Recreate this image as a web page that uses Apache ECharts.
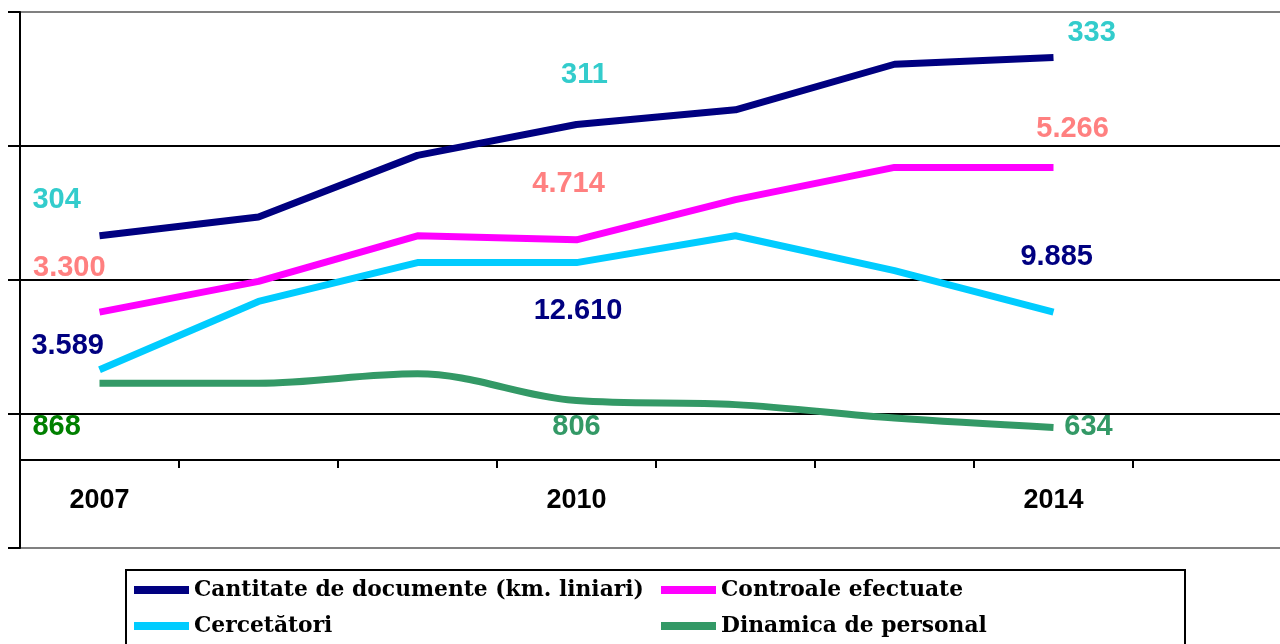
<!DOCTYPE html>
<html>
<head>
<meta charset="utf-8">
<script src="https://cdn.jsdelivr.net/npm/echarts@6/dist/echarts.min.js"></script>
<style>
  html, body { margin: 0; padding: 0; background: #fff; }
  #chart { width: 1280px; height: 644px; }
</style>
</head>
<body>
<div id="chart"></div>
<script>
// categories (only every third one is labelled on the axis)
const years = ['2007', '2008', '2009', '2010', '2011', '2012', '2014', '']

// series, in the chart's own (unitless) scale
const cantitate = [2.33, 2.47, 2.93, 3.16, 3.27, 3.61, 3.66]
const controale = [1.76, 1.99, 2.33, 2.30, 2.60, 2.84, 2.84]
const cercetatori = [1.33, 1.84, 2.13, 2.13, 2.33, 2.07, 1.76]
const dinamica = [1.23, 1.23, 1.30, 1.10, 1.07, 0.97, 0.90]

// value annotations written on the chart
const turqText = ['304', '311', '333']
const turqX = [-0.27, 3.05, 6.24]
const turqY = [2.60, 3.53, 3.84]
const salmonText = ['3.300', '4.714', '5.266']
const salmonX = [-0.19, 2.95, 6.12]
const salmonY = [2.09, 2.72, 3.13]
const navyText = ['3.589', '12.610', '9.885']
const navyX = [-0.20, 3.01, 6.02]
const navyY = [1.51, 1.77, 2.17]
const greenText = ['868', '806', '634']
const greenX = [-0.27, 3.00, 6.22]
const greenY = [0.90, 0.90, 0.90]

const names = ['Cantitate de documente (km. liniari)', 'Controale efectuate', 'Cercetători', 'Dinamica de personal']
const colors = ['#000080', '#ff00ff', '#00ccff', '#339966']

function annot(text, xs, ys, color, itemColors) {
  return {
    type: 'scatter',
    xAxisIndex: 1,
    symbolSize: 0,
    silent: true,
    z: 5,
    itemStyle: { opacity: 1 },
    data: text.map((t, i) => ({
      name: t,
      value: [xs[i], ys[i]],
      label: itemColors ? { color: itemColors[i] } : undefined
    })),
    label: {
      show: true,
      position: 'inside',
      formatter: p => p.name,
      color: color,
      opacity: 1,
      fontFamily: 'Liberation Sans, Arial, sans-serif',
      fontWeight: 'bold',
      fontSize: 29
    }
  }
}

function line(idx, data, smooth) {
  return {
    name: names[idx],
    type: 'line',
    data: data,
    smooth: smooth ? 0.35 : false,
    symbol: 'none',
    color: colors[idx],
    lineStyle: { width: 7, color: colors[idx], cap: 'butt' },
    animation: false
  }
}

const legendText = {
  fontFamily: 'DejaVu Serif, Georgia, serif',
  fontWeight: 'bold',
  fontSize: 21.8,
  color: '#000'
}

const chart = echarts.init(document.getElementById('chart'))
chart.setOption({
  animation: false,
  // the plot runs past the right edge of the picture (8th slot is empty)
  grid: { left: 20, right: -12, top: 12, bottom: 96, outerBoundsMode: 'none', containLabel: false },
  legend: [
    {
      data: [names[0], names[2]],
      orient: 'vertical',
      left: 134,
      top: 579,
      padding: 0,
      itemGap: 14,
      itemWidth: 55,
      itemHeight: 8,
      icon: 'rect',
      textStyle: legendText
    },
    {
      data: [names[1], names[3]],
      orient: 'vertical',
      left: 661,
      top: 579,
      padding: 0,
      itemGap: 14,
      itemWidth: 55,
      itemHeight: 8,
      icon: 'rect',
      textStyle: legendText
    }
  ],
  graphic: [{
    type: 'rect',
    shape: { x: 126, y: 570, width: 1059, height: 100 },
    style: { fill: 'none', stroke: '#000', lineWidth: 2 },
    silent: true
  }],
  xAxis: [
    {
      type: 'category',
      data: years,
      position: 'bottom',
      offset: -88,
      boundaryGap: true,
      axisLine: { onZero: false, lineStyle: { color: '#000', width: 2 } },
      axisTick: { show: true, length: 8, interval: 0, lineStyle: { color: '#000', width: 2 } },
      axisLabel: {
        interval: 2,
        margin: 27,
        color: '#000',
        fontFamily: 'Liberation Sans, Arial, sans-serif',
        fontWeight: 'bold',
        fontSize: 27
      },
      splitLine: { show: false }
    },
    {
      type: 'value',
      min: -0.5,
      max: 7.5,
      show: false
    }
  ],
  yAxis: {
    type: 'value',
    min: 0,
    max: 4,
    interval: 1,
    axisLine: { show: true, onZero: false, lineStyle: { color: '#000', width: 2 } },
    axisTick: { show: true, length: 12, lineStyle: { color: '#000', width: 2 } },
    axisLabel: { show: false },
    splitLine: {
      show: true,
      showMinLine: true,
      showMaxLine: true,
      lineStyle: { color: ['#808080', '#000', '#000', '#000', '#808080'], width: 2 }
    }
  },
  series: [
    line(0, cantitate),
    line(1, controale),
    line(2, cercetatori),
    line(3, dinamica, true),
    annot(turqText, turqX, turqY, '#33cccc'),
    annot(salmonText, salmonX, salmonY, '#ff8080'),
    annot(navyText, navyX, navyY, '#000080'),
    annot(greenText, greenX, greenY, '#339966', ['#008000', '#339966', '#339966'])
  ]
})
</script>
</body>
</html>
